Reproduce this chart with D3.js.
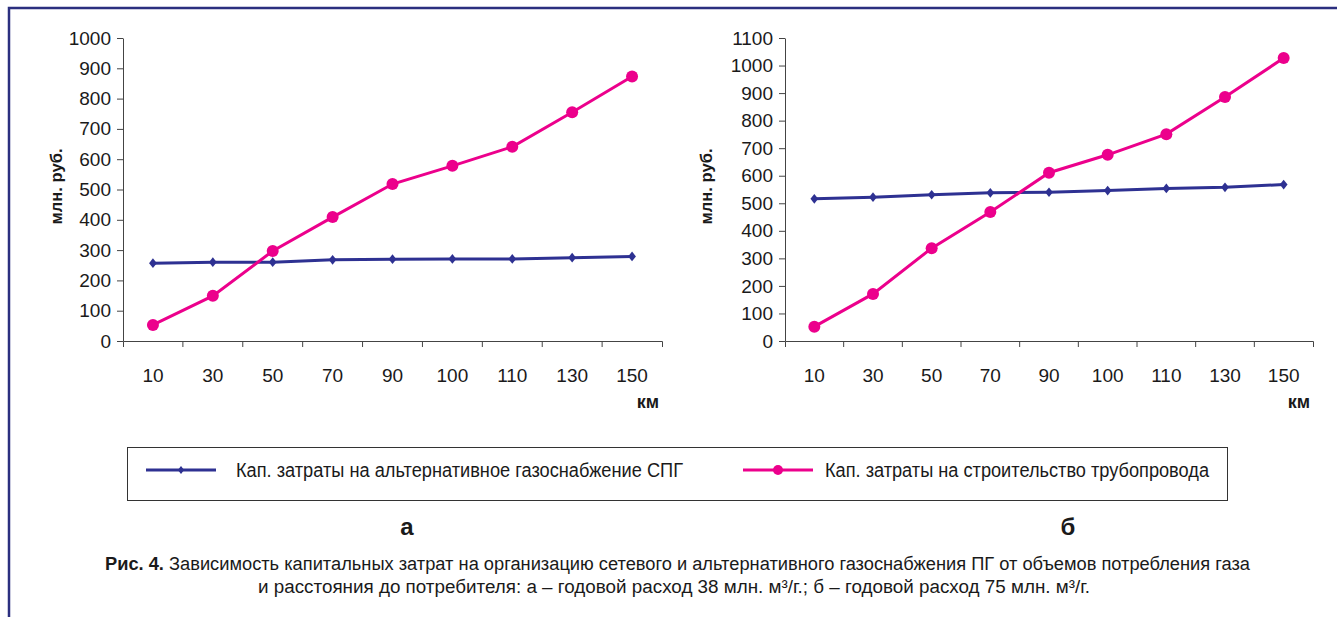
<!DOCTYPE html>
<html>
<head>
<meta charset="utf-8">
<script src="https://cdn.jsdelivr.net/npm/d3@7"></script>
<style>
  body { margin: 0; background: #fff; }
  svg { display: block; font-family: "Liberation Sans", Arial, sans-serif; }
</style>
</head>
<body>
<div id="chart"></div>
<script>
// Categories (distance, km).
const distances = ["10", "30", "50", "70", "90", "100", "110", "130", "150"];

// Panel "а": annual consumption 38 mln m3/yr.
const lngA = [257, 260, 260, 268, 270, 271, 271, 275, 279];
const pipeA = [53, 149, 297, 409, 518, 578, 641, 755, 873];
const ticksA = [0, 100, 200, 300, 400, 500, 600, 700, 800, 900, 1000];

// Panel "б": annual consumption 75 mln m3/yr.
const lngB = [516, 522, 531, 538, 540, 546, 554, 558, 568];
const pipeB = [52, 171, 337, 468, 611, 676, 751, 886, 1027];
const ticksB = [0, 100, 200, 300, 400, 500, 600, 700, 800, 900, 1000, 1100];

const seriesNames = [
  "Кап. затраты на альтернативное газоснабжение СПГ",
  "Кап. затраты на строительство трубопровода",
];

const width = 1337;
const height = 617;
const blue = "#2e3192";
const pink = "#ec008c";
const axisColor = "#444";
const textColor = "#1a1a1a";
const fontFamily = "Liberation Sans, Arial, sans-serif";

const svg = d3.select("#chart")
  .append("svg")
  .attr("width", width)
  .attr("height", height);

// Frame (top and left edges only).
svg.append("path")
  .attr("d", `M9,${height} L9,8 L${width},8`)
  .attr("fill", "none")
  .attr("stroke", "#2b2f7f")
  .attr("stroke-width", 2.5);

/**
 * Draws one line chart panel.
 */
function drawPanel({ left, right, top, bottom, max, ticks, lng, pipe, yLabelX }) {
  const x = d3.scaleBand().domain(distances).range([left, right]);
  const y = d3.scaleLinear().domain([0, max]).range([bottom, top]);

  const g = svg.append("g");

  // Y axis.
  const yAxis = g.append("g")
    .attr("transform", `translate(${left},0)`)
    .call(d3.axisLeft(y).tickValues(ticks).tickFormat(d3.format("d"))
      .tickSize(6).tickSizeOuter(0).tickPadding(6));
  yAxis.select(".domain").attr("stroke", axisColor);
  yAxis.selectAll(".tick line").attr("stroke", axisColor);
  yAxis.selectAll("text")
    .attr("font-size", 19)
    .attr("font-family", fontFamily)
    .attr("fill", textColor);

  // X axis: labels at band centres, ticks at band boundaries.
  const xAxis = g.append("g")
    .attr("transform", `translate(0,${bottom})`)
    .call(d3.axisBottom(x).tickSize(0).tickSizeOuter(6).tickPadding(28));
  xAxis.select(".domain").attr("stroke", axisColor);
  xAxis.selectAll("text")
    .attr("font-size", 19)
    .attr("font-family", fontFamily)
    .attr("fill", textColor);
  g.selectAll(".boundary")
    .data(distances.slice(1))
    .join("line")
    .attr("x1", (d) => x(d))
    .attr("x2", (d) => x(d))
    .attr("y1", bottom)
    .attr("y2", bottom + 6)
    .attr("stroke", axisColor);

  // Axis titles.
  g.append("text")
    .attr("x", right - 3)
    .attr("y", bottom + 67)
    .attr("text-anchor", "end")
    .attr("font-size", 18)
    .attr("font-weight", "bold")
    .attr("fill", textColor)
    .text("км");
  g.append("text")
    .attr("transform", `translate(${yLabelX},${(top + bottom) / 2 - 3}) rotate(-90)`)
    .attr("text-anchor", "middle")
    .attr("font-size", 17)
    .attr("font-weight", "bold")
    .attr("fill", textColor)
    .attr("textLength", 76)
    .attr("lengthAdjust", "spacingAndGlyphs")
    .text("млн. руб.");

  const cx = (i) => x(distances[i]) + x.bandwidth() / 2;
  const line = d3.line().x((d, i) => cx(i)).y((d) => y(d));

  // LNG series.
  g.append("path")
    .attr("d", line(lng))
    .attr("fill", "none")
    .attr("stroke", blue)
    .attr("stroke-width", 3);
  g.selectAll(".lng")
    .data(lng)
    .join("path")
    .attr("d", d3.symbol(d3.symbolDiamond2, 60))
    .attr("transform", (d, i) => `translate(${cx(i)},${y(d)}) scale(0.8,1)`)
    .attr("fill", blue);

  // Pipeline series.
  g.append("path")
    .attr("d", line(pipe))
    .attr("fill", "none")
    .attr("stroke", pink)
    .attr("stroke-width", 3);
  g.selectAll(".pipe")
    .data(pipe)
    .join("circle")
    .attr("cx", (d, i) => cx(i))
    .attr("cy", (d) => y(d))
    .attr("r", 6)
    .attr("fill", pink);
}

drawPanel({ left: 123, right: 662, top: 38, bottom: 341, max: 1000, ticks: ticksA, lng: lngA, pipe: pipeA, yLabelX: 62 });
drawPanel({ left: 785, right: 1313, top: 38, bottom: 341, max: 1100, ticks: ticksB, lng: lngB, pipe: pipeB, yLabelX: 712 });

// Legend.
const legend = svg.append("g");
legend.append("rect")
  .attr("x", 127.5)
  .attr("y", 447.5)
  .attr("width", 1100)
  .attr("height", 53)
  .attr("fill", "none")
  .attr("stroke", "#333");

const legendItems = [
  { name: seriesNames[0], color: blue, x: 146, marker: "diamond", textX: 236, textW: 447 },
  { name: seriesNames[1], color: pink, x: 743, marker: "circle", textX: 825, textW: 384 },
];
legendItems.forEach((item) => {
  const ly = 470;
  legend.append("line")
    .attr("x1", item.x)
    .attr("x2", item.x + 70)
    .attr("y1", ly)
    .attr("y2", ly)
    .attr("stroke", item.color)
    .attr("stroke-width", 3);
  if (item.marker === "diamond") {
    legend.append("path")
      .attr("d", d3.symbol(d3.symbolDiamond2, 40))
      .attr("transform", `translate(${item.x + 35},${ly}) scale(0.8,1)`)
      .attr("fill", item.color);
  } else {
    legend.append("circle")
      .attr("cx", item.x + 35)
      .attr("cy", ly)
      .attr("r", 5)
      .attr("fill", item.color);
  }
  legend.append("text")
    .attr("x", item.textX)
    .attr("y", ly + 7)
    .attr("font-size", 20)
    .attr("fill", textColor)
    .attr("textLength", item.textW)
    .attr("lengthAdjust", "spacingAndGlyphs")
    .text(item.name);
});

// Panel letters.
svg.append("text")
  .attr("x", 407).attr("y", 535)
  .attr("text-anchor", "middle")
  .attr("font-size", 24).attr("font-weight", "bold")
  .attr("fill", textColor)
  .text("а");
svg.append("text")
  .attr("x", 1068).attr("y", 535)
  .attr("text-anchor", "middle")
  .attr("font-size", 24).attr("font-weight", "bold")
  .attr("fill", textColor)
  .text("б");

// Caption.
const cap1 = svg.append("text")
  .attr("x", 105).attr("y", 570)
  .attr("font-size", 18)
  .attr("fill", textColor)
  .attr("textLength", 1145)
  .attr("lengthAdjust", "spacingAndGlyphs");
cap1.append("tspan").attr("font-weight", "bold").text("Рис. 4.");
cap1.append("tspan").text(" Зависимость капитальных затрат на организацию сетевого и альтернативного газоснабжения ПГ от объемов потребления газа");

svg.append("text")
  .attr("x", 258).attr("y", 593)
  .attr("font-size", 18)
  .attr("fill", textColor)
  .attr("textLength", 832)
  .attr("lengthAdjust", "spacingAndGlyphs")
  .text("и расстояния до потребителя: а – годовой расход 38 млн. м³/г.;  б – годовой расход 75 млн. м³/г.");
</script>
</body>
</html>
